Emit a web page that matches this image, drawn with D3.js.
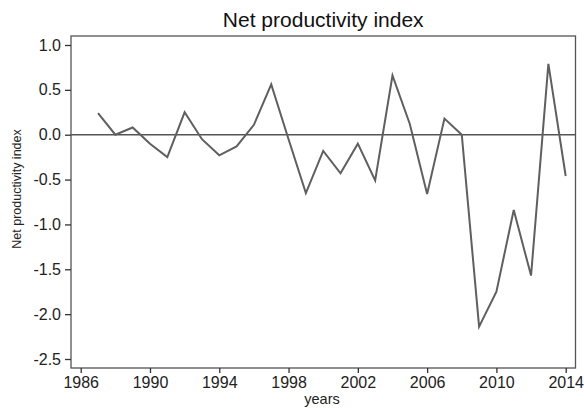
<!DOCTYPE html>
<html>
<head>
<meta charset="utf-8">
<script src="https://cdn.jsdelivr.net/npm/d3@7"></script>
<style>
  body { margin: 0; background: #fff; }
  text { font-family: "Liberation Sans", Arial, sans-serif; }
</style>
</head>
<body>
<script>
// values
var years = [1987, 1988, 1989, 1990, 1991, 1992, 1993, 1994, 1995, 1996,
	1997, 1998, 1999, 2000, 2001, 2002, 2003, 2004, 2005, 2006,
	2007, 2008, 2009, 2010, 2011, 2012, 2013, 2014]
var index = [0.24, 0.0, 0.08, -0.10, -0.25, 0.25, -0.05, -0.23, -0.13, 0.11,
	0.56, -0.05, -0.65, -0.18, -0.43, -0.10, -0.51, 0.66, 0.12, -0.66,
	0.18, 0.0, -2.14, -1.75, -0.84, -1.57, 0.79, -0.46]
var xTicks = [1986, 1990, 1994, 1998, 2002, 2006, 2010, 2014]
var yTicks = [1.0, 0.5, 0.0, -0.5, -1.0, -1.5, -2.0, -2.5]

var width = 584,
	height = 410

var frame = {left: 71, top: 36, right: 575.5, bottom: 368}

var svg = d3.select("body").append("svg")
	.attr("width", width)
	.attr("height", height)

var x = d3.scaleLinear()
	.domain([1986, 2014])
	.range([80.7, 565.7])

var y = d3.scaleLinear()
	.domain([-2.5, 1])
	.range([359, 45])

// plot frame
svg.append("rect")
	.attr("x", frame.left)
	.attr("y", frame.top)
	.attr("width", frame.right - frame.left)
	.attr("height", frame.bottom - frame.top)
	.attr("fill", "none")
	.attr("stroke", "#555")
	.attr("stroke-width", 1.3)

// zero line
svg.append("line")
	.attr("x1", frame.left)
	.attr("x2", frame.right)
	.attr("y1", y(0))
	.attr("y2", y(0))
	.attr("stroke", "#555")
	.attr("stroke-width", 1.5)

// axes
var yAxis = svg.append("g")
	.attr("transform", "translate(" + frame.left + ",0)")
	.call(d3.axisLeft(y).tickValues(yTicks).tickFormat(d3.format(".1f")).tickSize(6).tickPadding(4))

var xAxis = svg.append("g")
	.attr("transform", "translate(0," + frame.bottom + ")")
	.call(d3.axisBottom(x).tickValues(xTicks).tickFormat(d3.format("d")).tickSize(5).tickPadding(4))

svg.selectAll(".domain").remove()
svg.selectAll(".tick line").attr("stroke", "#333").attr("stroke-width", 1.3)
svg.selectAll(".tick text")
	.attr("fill", "#222")
	.style("font-size", "16px")
	.style("font-family", "'Liberation Sans', Arial, sans-serif")
yAxis.selectAll(".tick text").text(d => d3.format(".1f")(d).replace("−", "-"))

// data line
svg.append("path")
	.datum(index)
	.attr("fill", "none")
	.attr("stroke", "#5f5f5f")
	.attr("stroke-width", 2)
	.attr("stroke-linejoin", "miter")
	.attr("d", d3.line()
		.x((d, i) => x(years[i]))
		.y(d => y(d)))

// titles
svg.append("text")
	.attr("x", (frame.left + frame.right) / 2)
	.attr("y", 27)
	.attr("text-anchor", "middle")
	.style("font-size", "21px")
	.attr("fill", "#111")
	.text("Net productivity index")

svg.append("text")
	.attr("transform", "translate(21," + 189 + ") rotate(-90)")
	.attr("text-anchor", "middle")
	.style("font-size", "12.5px")
	.attr("fill", "#222")
	.text("Net productivity index")

svg.append("text")
	.attr("x", 322)
	.attr("y", 404)
	.attr("text-anchor", "middle")
	.style("font-size", "14.5px")
	.attr("fill", "#222")
	.text("years")
</script>
</body>
</html>
